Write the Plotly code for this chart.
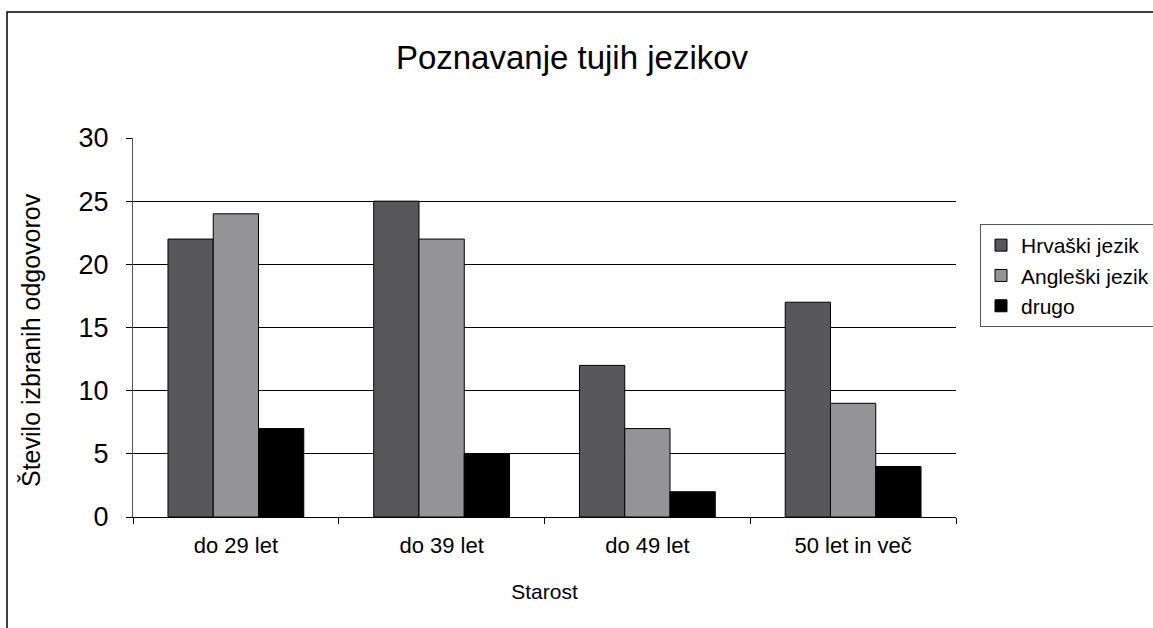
import plotly.graph_objects as go

categories = ["do 29 let", "do 39 let", "do 49 let", "50 let in več"]
series_names = ["Hrvaški jezik", "Angleški jezik", "drugo"]
hrvaski = [22, 25, 12, 17]
angleski = [24, 22, 7, 9]
drugo = [7, 5, 2, 4]
colors = ["#58585a", "#949497", "#000000"]

W, H = 1153, 628
L, R, T, B = 133, 197, 138, 111
pw = W - L - R
ph = H - T - B
FONT = "Liberation Sans, Arial, sans-serif"

fig = go.Figure()
for i, (name, vals) in enumerate(zip(series_names, [hrvaski, angleski, drugo])):
    fig.add_trace(go.Bar(
        x=categories, y=vals, name=name, legendgroup=name,
        marker=dict(color=colors[i], line=dict(color="#000000", width=1)),
    ))

fig.update_layout(
    width=W, height=H,
    margin=dict(l=L, r=R, t=T, b=B, autoexpand=False),
    paper_bgcolor="white", plot_bgcolor="white",
    barmode="group", bargap=0.34, bargroupgap=0,
    font=dict(family=FONT, color="#000000"),
    title=dict(text="Poznavanje tujih jezikov", x=572 / W, xanchor="center",
               y=1 - 57 / H, yanchor="middle", font=dict(size=33)),
    showlegend=True,
    legend=dict(x=(980 - L) / pw, xanchor="left", y=(517 - 224) / ph, yanchor="top",
                bordercolor="#555555", borderwidth=1, bgcolor="white",
                font=dict(size=21), tracegroupgap=0, itemwidth=30),
    xaxis=dict(showline=True, linecolor="#000000", linewidth=1,
               ticks="outside", ticklen=6, tickcolor="#000000", tickson="boundaries",
               tickfont=dict(size=22), showgrid=False, ticklabelstandoff=9,
               title=dict(text="Starost", font=dict(size=21), standoff=26)),
    yaxis=dict(range=[0, 30], dtick=5, showgrid=True, gridcolor="#000000", gridwidth=1,
               showline=True, linecolor="#555555", linewidth=1,
               ticks="outside", ticklen=6, tickcolor="#000000", ticklabelstandoff=12,
               tickfont=dict(size=27), zeroline=False),
    annotations=[dict(text="Število izbranih odgovorov", textangle=-90,
                      xref="paper", yref="paper", x=(31 - L) / pw, y=(517 - 340) / ph,
                      xanchor="center", yanchor="middle", showarrow=False,
                      font=dict(size=25))],
)

fig.add_shape(type="rect", xref="paper", yref="paper",
              x0=(7 - L) / pw, x1=(W + 20 - L) / pw,
              y0=-(H + 20 - (H - B)) / ph, y1=(H - B - 12) / ph,
              line=dict(color="#000000", width=1.5), fillcolor="rgba(0,0,0,0)", layer="below")

fig.write_html("out.html", config={"displayModeBar": False},
               post_script="document.body.style.margin='0';document.body.style.overflow='hidden';")
